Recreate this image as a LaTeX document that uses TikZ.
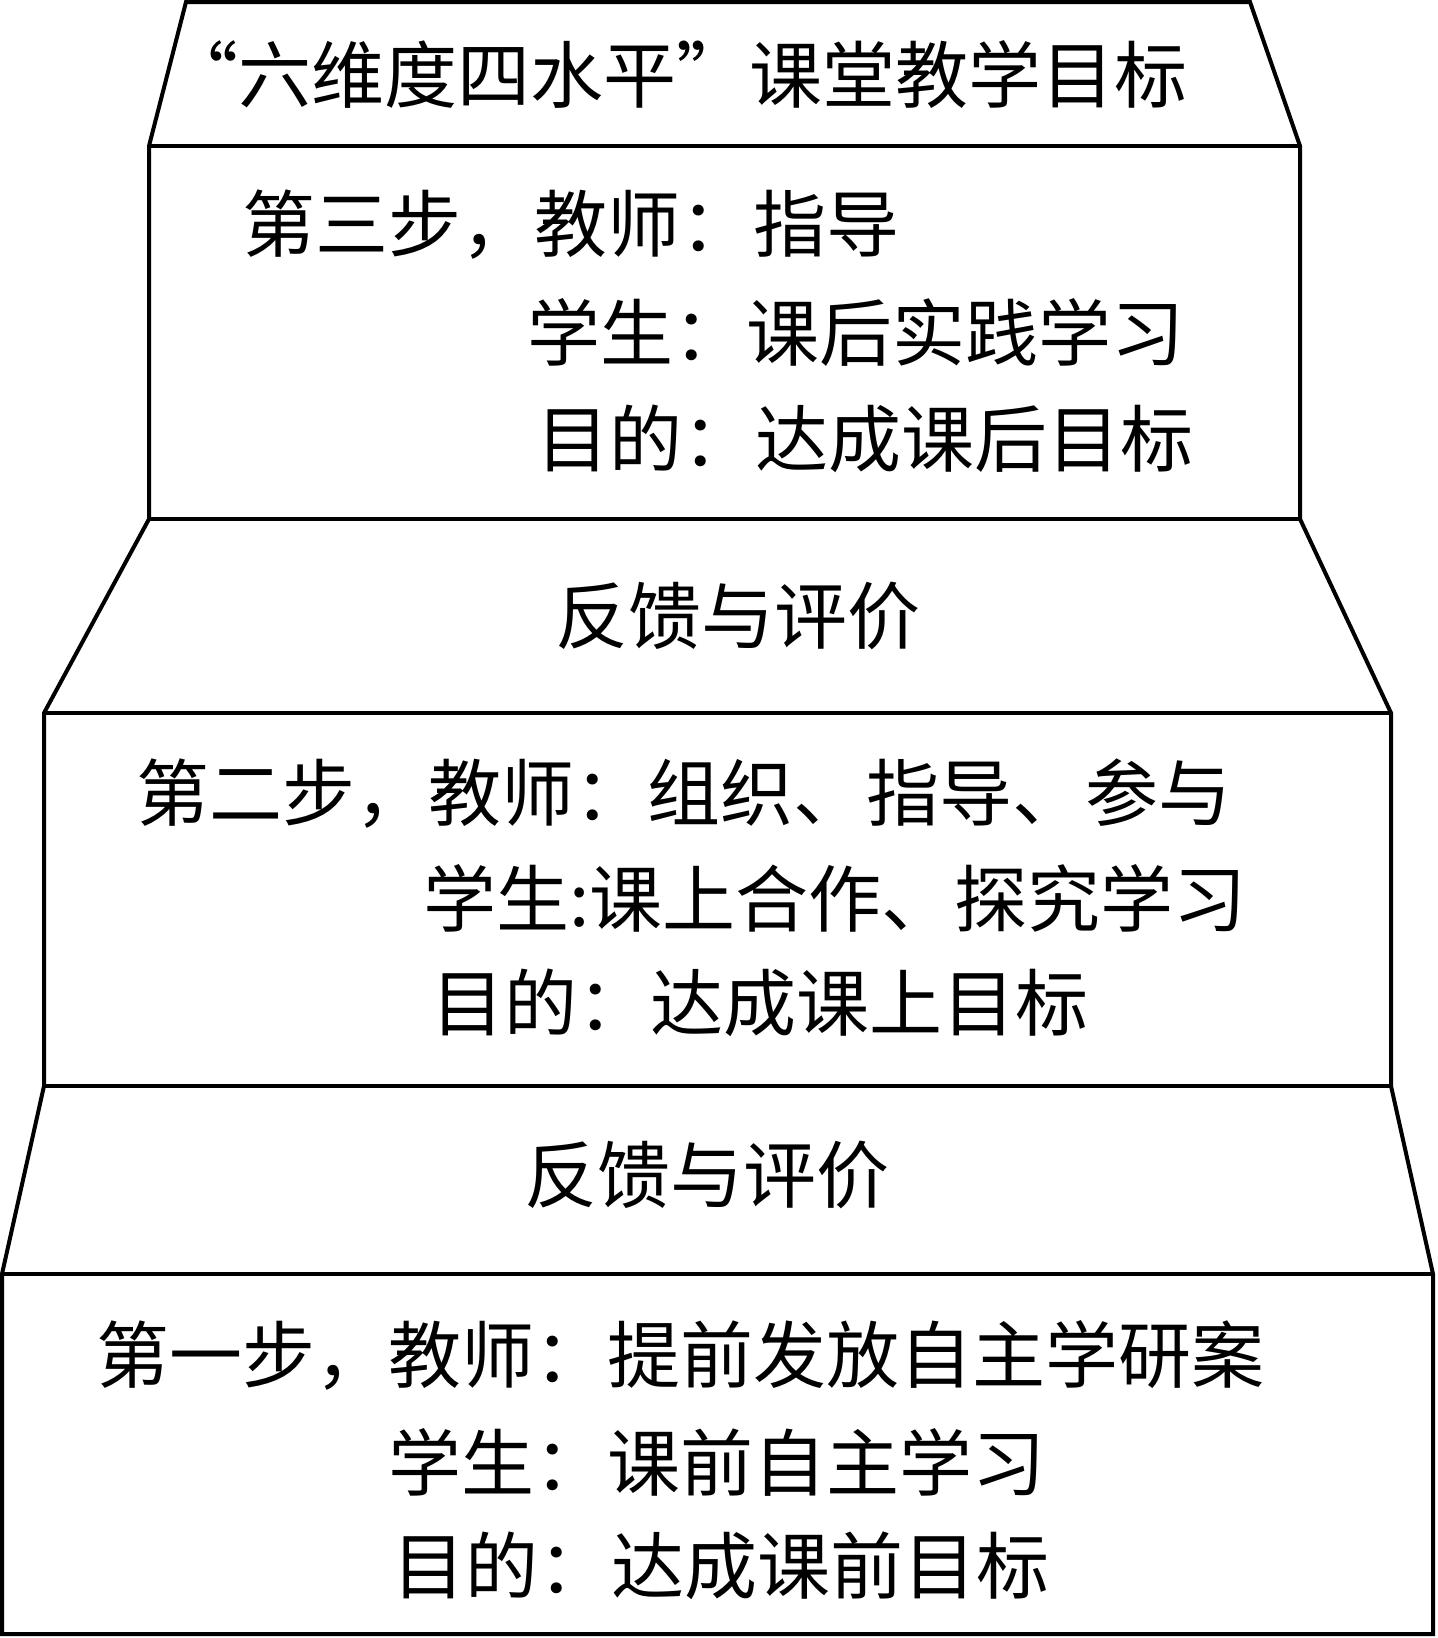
\documentclass[tikz,border=0pt]{standalone}
\usepackage{fontspec}
\newfontfamily\cjk{Noto Sans CJK SC}

\begin{document}
\begin{tikzpicture}[x=0.5pt, y=-0.5pt,
  caja/.style={line width=2pt, line join=miter},
  txt/.style={anchor=west, inner sep=0pt, font=\cjk\fontsize{36.5}{40}\selectfont},
  ctxt/.style={txt, anchor=center}]
\useasboundingbox (0,0) rectangle (1438,1638);

% contorno escalonado
\draw[caja] (186,2) -- (1250,2) -- (1300,146) -- (1300,519) -- (1391,713) -- (1391,1086)
  -- (1433,1274) -- (1433,1634) -- (2,1634) -- (2,1274) -- (44,1086) -- (44,713)
  -- (149,519) -- (149,146) -- cycle;
% separadores
\draw[caja] (149,146) -- (1300,146);
\draw[caja] (149,519) -- (1300,519);
\draw[caja] (44,713) -- (1391,713);
\draw[caja] (44,1086) -- (1391,1086);
\draw[caja] (2,1274) -- (1433,1274);

% titulo
\node[ctxt] (titulo) at (676,75) {“六维度四水平”课堂教学目标};

% tercer paso
\node[txt] (p3a) at (242,225) {第三步，教师：指导};
\node[txt] (p3b) at (527,332) {学生：课后实践学习};
\node[txt] (p3c) at (536,439) {目的：达成课后目标};
\node[ctxt] (fb3) at (738,616) {反馈与评价};

% segundo paso
\node[txt] (p2a) at (136,794) {第二步，教师：组织、指导、参与};
\node[txt] (p2b) at (423,898) {学生:课上合作、探究学习};
\node[txt] (p2c) at (431,1003) {目的：达成课上目标};
\node[ctxt] (fb2) at (707,1175) {反馈与评价};

% primer paso
\node[txt] (p1a) at (96,1355) {第一步，教师：提前发放自主学研案};
\node[txt] (p1b) at (388,1462) {学生：课前自主学习};
\node[txt] (p1c) at (392,1566) {目的：达成课前目标};
\end{tikzpicture}
\end{document}
